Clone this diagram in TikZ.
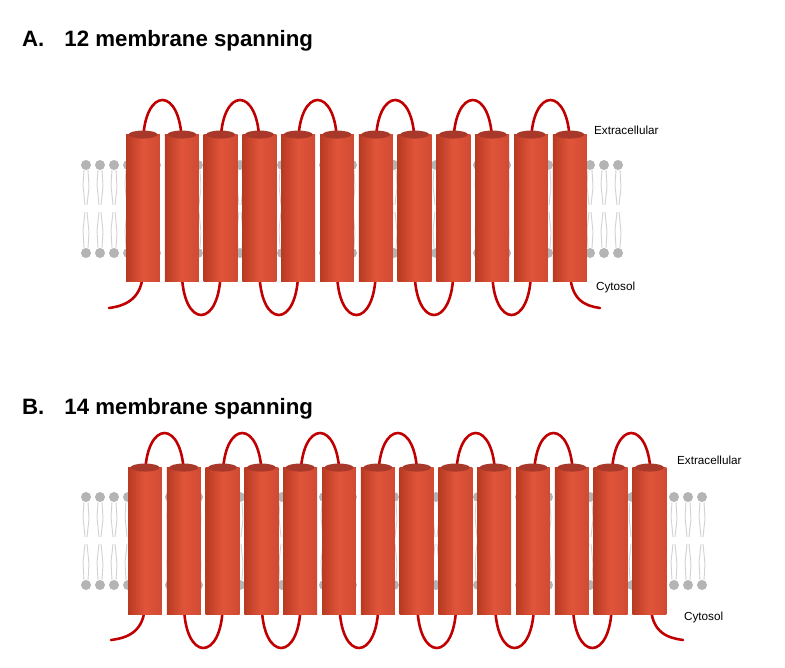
\documentclass[tikz,border=0pt]{standalone}
\usepackage{fontspec}
\setmainfont{Liberation Sans}
\usetikzlibrary{positioning}

\definecolor{loopred}{HTML}{C00000}
\definecolor{cylL}{HTML}{B83A22}
\definecolor{cylM}{HTML}{E0553A}
\definecolor{cylR}{HTML}{D04A32}
\definecolor{cyltop}{HTML}{A8382A}
\definecolor{lipid}{HTML}{B4B4B4}

\tikzset{
    helixbox/.style={rectangle, minimum width=29, minimum height=125, inner sep=0pt,
        left color=cylL, right color=cylR, middle color=cylM},
    loopline/.style={draw=loopred, line width=2.2pt, line cap=round},
    panel/.style={font=\bfseries\fontsize{19}{22}\selectfont, anchor=west},
    side/.style={font=\fontsize{10}{12}\selectfont, anchor=west}
}

% one lipid bilayer
\newcommand{\bilayer}[2]{% x list, y top
  \foreach \lx in {#1}{
    \fill[lipid] (\lx,#2) circle (5);
    \fill[lipid] (\lx,#2+88) circle (5);
    \draw[lipid!60, line width=0.8pt] (\lx-2,#2+5) -- (\lx-3,#2+20) -- (\lx-1,#2+40) (\lx+2,#2+5) -- (\lx+3,#2+22) -- (\lx+1,#2+40);
    \draw[lipid!60, line width=0.8pt] (\lx-2,#2+83) -- (\lx-3,#2+65) -- (\lx-1,#2+47) (\lx+2,#2+83) -- (\lx+3,#2+67) -- (\lx+1,#2+47);
  }}

% row of helices named <prefix>1..n
\newcommand{\helices}[4]{% prefix, count, x of first centre, y centre
  \foreach \i in {1,...,#2}{
    \node[helixbox] (#1\i) at ({#3+(\i-1)*38.8},#4) {};
    \fill[cyltop] (#1\i.north) ellipse (14.5 and 4);
  }}

\begin{document}
\begin{tikzpicture}[x=0.03cm, y=-0.03cm]
\useasboundingbox (0,0) rectangle (785,667);

% Titles
\node[panel] (titleA) at (18,41) {A.\hspace{0.9em}12 membrane spanning};
\node[panel] (titleB) at (18,409) {B.\hspace{0.9em}14 membrane spanning};

% Membranes
\bilayer{86,100,...,628}{165}
\bilayer{86,100,...,712}{497}

% Panel A
\foreach \i/\j in {1/2,3/4,5/6,7/8,9/10,11/12}{
  \path ({143+(\i-1)*38.8},145) coordinate (at\i) ({143+(\j-1)*38.8},145) coordinate (at\j);
  \draw[loopline] (at\i) .. controls +(0,-60) and +(0,-60) .. (at\j);
}
\foreach \i/\j in {2/3,4/5,6/7,8/9,10/11}{
  \path ({143+(\i-1)*38.8},270) coordinate (ab\i) ({143+(\j-1)*38.8},270) coordinate (ab\j);
  \draw[loopline] (ab\i) .. controls +(0,60) and +(0,60) .. (ab\j);
}
\path (143,270) coordinate (ab1) (570,270) coordinate (ab12)
      (109,308) coordinate (tailA1) (600,308) coordinate (tailA2);
\draw[loopline] (ab1) .. controls +(0,30) and +(15,-2) .. (tailA1);
\draw[loopline] (ab12) .. controls +(0,30) and +(-15,-2) .. (tailA2);
\helices{ha}{12}{143}{208}
\node[side] (extA) at (590,130) {Extracellular};
\node[side] (cytA) at (592,287) {Cytosol};

% Panel B
\foreach \i/\j in {1/2,3/4,5/6,7/8,9/10,11/12,13/14}{
  \path ({145+(\i-1)*38.9},478) coordinate (bt\i) ({145+(\j-1)*38.9},478) coordinate (bt\j);
  \draw[loopline] (bt\i) .. controls +(0,-60) and +(0,-60) .. (bt\j);
}
\foreach \i/\j in {2/3,4/5,6/7,8/9,10/11,12/13}{
  \path ({145+(\i-1)*38.9},603) coordinate (bb\i) ({145+(\j-1)*38.9},603) coordinate (bb\j);
  \draw[loopline] (bb\i) .. controls +(0,60) and +(0,60) .. (bb\j);
}
\path (145,603) coordinate (bb1) (650.7,603) coordinate (bb14)
      (111,640) coordinate (tailB1) (683,640) coordinate (tailB2);
\draw[loopline] (bb1) .. controls +(0,30) and +(15,-2) .. (tailB1);
\draw[loopline] (bb14) .. controls +(0,30) and +(-15,-2) .. (tailB2);
\helices{hb}{14}{145}{541}
\node[side] (extB) at (673,460) {Extracellular};
\node[side] (cytB) at (680,617) {Cytosol};

\end{tikzpicture}
\end{document}
